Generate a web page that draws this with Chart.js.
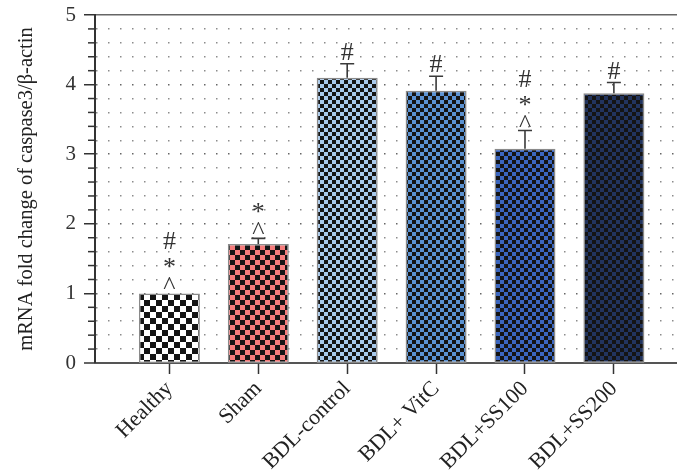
<!DOCTYPE html>
<html>
<head>
<meta charset="utf-8">
<script src="https://cdn.jsdelivr.net/npm/chart.js@4.4.1/dist/chart.umd.min.js"></script>
<style>
  body{margin:0;background:#fff;}
  #wrap{width:677px;height:475px;}
</style>
</head>
<body>
<div id="wrap"><canvas id="chart" width="677" height="475"></canvas></div>
<script>
const groups = ["Healthy","Sham","BDL-control","BDL+ VitC","BDL+SS100","BDL+SS200"];
const foldChange = [1.0, 1.71, 4.10, 3.91, 3.08, 3.875];
const sem = [0, 0.08, 0.20, 0.21, 0.26, 0.155];
const marks = ["^*#", "^*", "#", "#", "^*#", "#"];
const yTitle = "mRNA fold change of caspase3/\u03b2-actin";

const fillColors = ["#ffffff","#f47c7c","#a8c9eb","#5b92d2","#3b66bf","#22345e"];
const squareSize = [6,5,4,4,4,4];
const serif = "'Liberation Serif','Times New Roman',serif";

function checker(color,size){
  const c = document.createElement("canvas");
  c.width = size*2; c.height = size*2;
  const g = c.getContext("2d");
  g.fillStyle = color; g.fillRect(0,0,size*2,size*2);
  g.fillStyle = "#141414";
  g.fillRect(0,0,size,size);
  g.fillRect(size,size,size,size);
  return g.createPattern(c,"repeat");
}

const isMajor = v => Math.abs(v-Math.round(v))<1e-6;

// short minor ticks on the y axis
const minorTicks = {
  id:"minorTicks",
  afterDraw(chart){
    const y = chart.scales.y, ctx = chart.ctx;
    ctx.save();
    ctx.strokeStyle = "#333"; ctx.lineWidth = 1.5;
    y.ticks.forEach(t=>{
      if(isMajor(t.value)) return;
      const py = y.getPixelForValue(t.value);
      ctx.beginPath(); ctx.moveTo(y.right-7,py); ctx.lineTo(y.right,py); ctx.stroke();
    });
    ctx.restore();
  }
};

const errorBars = {
  id:"errorBars",
  afterDatasetsDraw(chart){
    const ctx = chart.ctx, y = chart.scales.y;
    const meta = chart.getDatasetMeta(0);
    ctx.save();
    ctx.strokeStyle = "#3a3a3a"; ctx.lineWidth = 1.6;
    meta.data.forEach((bar,i)=>{
      if(!sem[i]) return;
      const top = y.getPixelForValue(foldChange[i]+sem[i]);
      const base = y.getPixelForValue(foldChange[i]);
      ctx.beginPath();
      ctx.moveTo(bar.x,base); ctx.lineTo(bar.x,top);
      ctx.moveTo(bar.x-7,top); ctx.lineTo(bar.x+7,top);
      ctx.stroke();
    });
    // significance marks stacked above each bar
    ctx.fillStyle = "#333";
    ctx.font = "26px "+serif;
    ctx.textAlign = "center";
    ctx.textBaseline = "alphabetic";
    meta.data.forEach((bar,i)=>{
      let cursor = y.getPixelForValue(foldChange[i]+sem[i]) - 4;
      marks[i].split("").forEach(ch=>{
        const m = ctx.measureText(ch);
        const asc = m.actualBoundingBoxAscent, desc = m.actualBoundingBoxDescent;
        ctx.fillText(ch, bar.x, cursor - desc);
        cursor = cursor - desc - asc - 9;
      });
    });
    ctx.restore();
  }
};

const ctx = document.getElementById("chart").getContext("2d");
const patterns = fillColors.map((c,i)=>checker(c,squareSize[i]));

new Chart(ctx,{
  type:"bar",
  data:{
    datasets:[{
      data: groups.map((g,i)=>({x:i, y:foldChange[i]})),
      backgroundColor: patterns,
      borderColor:"#8a8a8a",
      borderWidth:1.5,
      borderSkipped:false,
      barPercentage:0.686,
      categoryPercentage:1
    }]
  },
  options:{
    responsive:false,
    devicePixelRatio:1,
    animation:false,
    layout:{padding:{top:15,right:0,left:0,bottom:0}},
    plugins:{legend:{display:false},tooltip:{enabled:false}},
    scales:{
      x:{
        type:"linear",
        offset:false,
        min:-0.837, max:5.71,
        afterBuildTicks: s => { s.ticks = groups.map((g,i)=>({value:i})); },
        afterFit: s => { s.height = 112; },
        ticks:{
          autoSkip:false, maxRotation:45, minRotation:45,
          callback: v => groups[v],
          font:{family:serif,size:22}, color:"#222", padding:2
        },
        grid:{offset:false, drawOnChartArea:false, drawTicks:true, tickLength:11, tickColor:"#333", tickWidth:1.5},
        border:{color:"#555", width:2}
      },
      y:{
        min:0, max:5,
        afterFit: s => { s.width = 95; s.paddingTop = 0; s.paddingBottom = 0; },
        ticks:{
          stepSize:0.2, autoSkip:false,
          callback: v => isMajor(v) ? Math.round(v) : "",
          font:{family:serif,size:21}, color:"#333", padding:8
        },
        grid:{
          color: c => (c.tick && isMajor(c.tick.value-5)) ? "#666" : "#8c8c8c",
          lineWidth: c => (c.tick && Math.abs(c.tick.value)<1e-6) ? 0 : 1.5,
          tickLength:11,
          tickWidth:1.5,
          tickColor: c => (c.tick && isMajor(c.tick.value)) ? "#333" : "rgba(0,0,0,0)"
        },
        border:{
          color:"#333", width:2,
          dash: c => (c.tick && Math.abs(c.tick.value-5)<1e-6) ? [] : [1.5,10.5]
        },
        title:{display:true, text:yTitle, font:{family:serif,size:20.5}, color:"#222", padding:{top:14,bottom:0}}
      }
    }
  },
  plugins:[minorTicks, errorBars]
});
</script>
</body>
</html>
